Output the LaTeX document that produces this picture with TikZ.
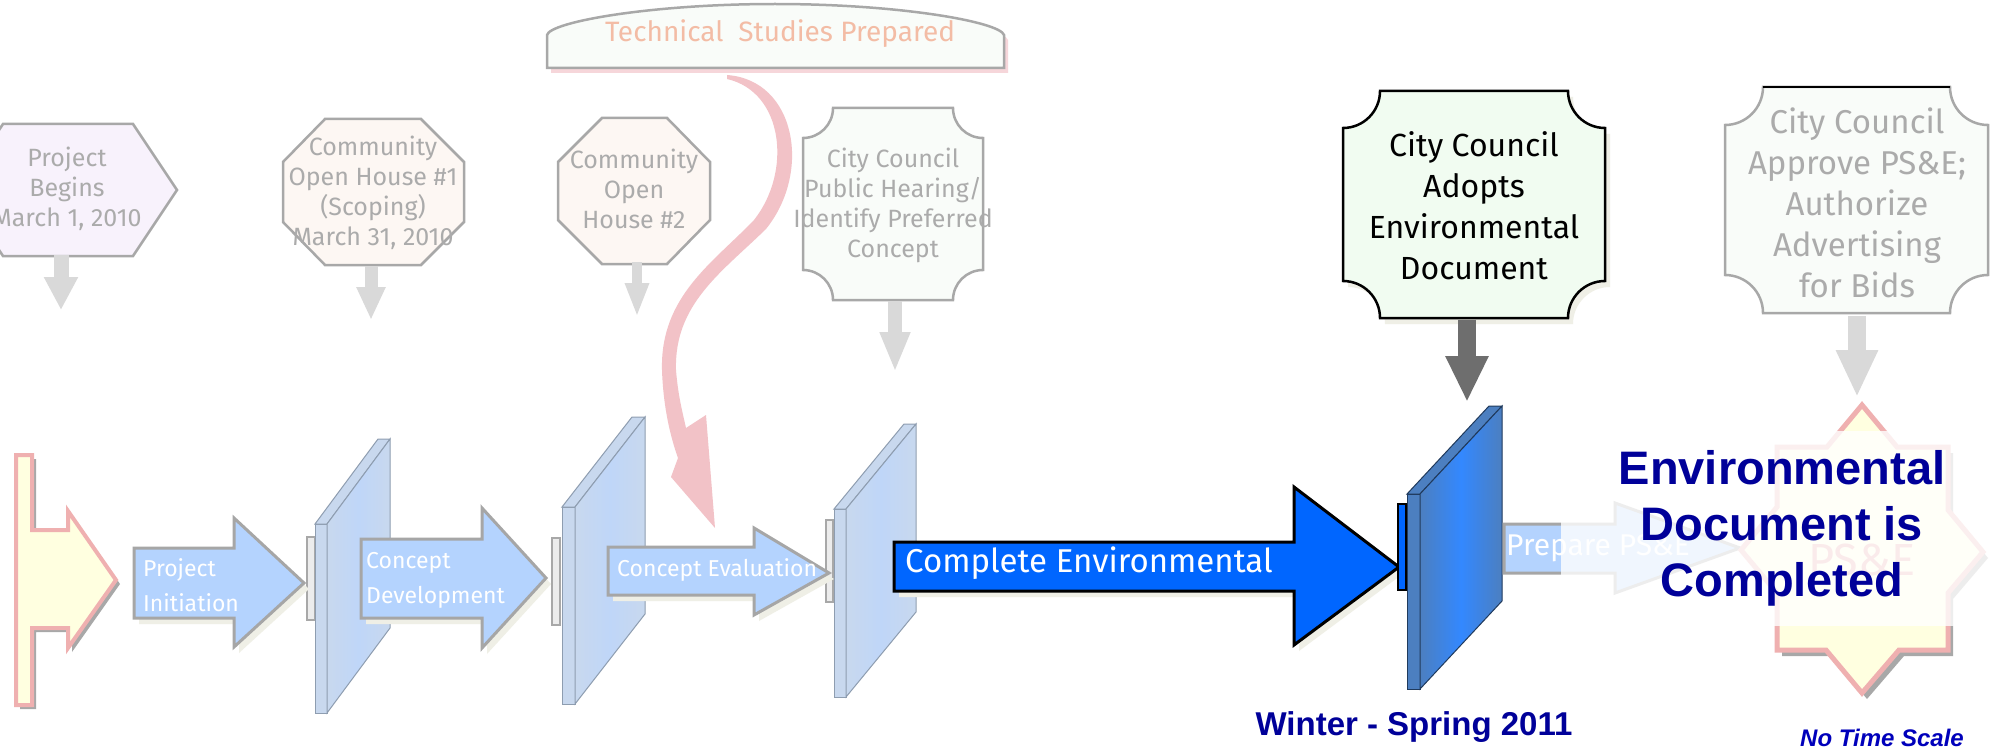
\documentclass[tikz,border=0pt]{standalone}
\usepackage{fontspec}
\setmainfont{Fira Sans}
\newfontfamily\arialfont{Liberation Sans}
\usetikzlibrary{arrows.meta}

\definecolor{boxgray}{HTML}{A8A8A8}
\definecolor{textgray}{HTML}{ABABAB}
\definecolor{arrgray}{HTML}{D9D9D9}
\definecolor{darkarr}{HTML}{6E6E6E}
\definecolor{lavender}{HTML}{F8F2FC}
\definecolor{peach}{HTML}{FDF7F3}
\definecolor{palegreen}{HTML}{F1FCF1}
\definecolor{palewhite}{HTML}{F9FCF9}
\definecolor{salmon}{HTML}{F3BCA5}
\definecolor{pinkshadow}{HTML}{F6D6DA}
\definecolor{shadowbeige}{HTML}{EFEFE6}
\definecolor{lightblue}{HTML}{B4D3FE}
\definecolor{arrborder}{HTML}{A6A6A6}
\definecolor{panelface}{HTML}{C8D8EE}
\definecolor{panelmid}{HTML}{BFD6F8}
\definecolor{paneledge}{HTML}{8E9DB0}
\definecolor{darkpanel}{HTML}{4C7FC0}
\definecolor{darkmid}{HTML}{3388FF}
\definecolor{darkedge}{HTML}{203A5C}
\definecolor{bigblue}{HTML}{0066FF}
\definecolor{navy}{HTML}{000099}
\definecolor{scaleblue}{HTML}{0000BB}
\definecolor{markpink}{HTML}{EFB0B0}
\definecolor{markyellow}{HTML}{FFFFE0}
\definecolor{psepink}{HTML}{EA9C9C}
\definecolor{swirlred}{HTML}{E8909A}

\begin{document}
\begin{tikzpicture}[x=1pt,y=-1pt,
  lightbox/.style={draw=boxgray,line width=2.5pt},
  boxtext/.style={text=textgray,font=\fontsize{25}{30}\selectfont,align=center,inner sep=0pt},
  plaquetext/.style={font=\fontsize{32}{41}\selectfont,align=center,inner sep=0pt},
  downarr/.style n args={3}{draw=arrgray,line width=#1,-{Triangle[width=#2,length=#3]}},
  shadowfill/.style={fill=shadowbeige,shift={(5,6)}},
  blockarr/.style={fill=lightblue,draw=arrborder,line width=3pt},
  arrtext/.style={text=white,font=\fontsize{23}{35}\selectfont,align=left,anchor=west,inner sep=0pt},
  panelside/.style={left color=panelface,right color=panelface,middle color=panelmid,draw=paneledge,line width=1pt},
  panelflat/.style={fill=panelface,draw=paneledge,line width=1pt},
  bracket/.style={fill=gray!15,draw=boxgray,line width=2pt}]

\fill[white] (0,0) rectangle (2003,749);
\useasboundingbox (0,0) rectangle (2003,749);

% studies box on top
\fill[pinkshadow,shift={(4,5)}] (547,68) -- (547,35) .. controls (550,22) and (650,4) .. (775,4) .. controls (900,4) and (1000,22) .. (1004,35) -- (1004,68) -- cycle;
\draw[lightbox,fill=palewhite] (547,68) -- (547,35) .. controls (550,22) and (650,4) .. (775,4) .. controls (900,4) and (1000,22) .. (1004,35) -- (1004,68) -- cycle;
\node[text=salmon,font=\fontsize{28}{32}\selectfont,inner sep=0pt] (studies) at (780,34) {Technical\ \ Studies Prepared};

% milestone boxes
\draw[lightbox,fill=lavender] (3,124) -- (133,124) -- (177,190) -- (133,256) -- (3,256) -- (-41,190) -- cycle;
\draw[lightbox,fill=peach] (325,119) -- (421,119) -- (464,162) -- (464,222) -- (421,265) -- (325,265) -- (283,222) -- (283,162) -- cycle;
\draw[lightbox,fill=peach] (602,118) -- (667,118) -- (710,162) -- (710,220) -- (667,264) -- (602,264) -- (558,220) -- (558,162) -- cycle;
\draw[lightbox,fill=palewhite] (833,108) -- (953,108) arc[start angle=180,end angle=270,radius=30pt] -- (983,270) arc[start angle=90,end angle=180,radius=30pt] -- (833,300) arc[start angle=0,end angle=90,radius=30pt] -- (803,138) arc[start angle=270,end angle=360,radius=30pt] -- cycle;
\fill[shadowfill] (1380,91) -- (1568,91) arc[start angle=180,end angle=270,radius=37pt] -- (1605,281) arc[start angle=90,end angle=180,radius=37pt] -- (1380,318) arc[start angle=0,end angle=90,radius=37pt] -- (1343,128) arc[start angle=270,end angle=360,radius=37pt] -- cycle;
\draw[line width=2.5pt,fill=palegreen] (1380,91) -- (1568,91) arc[start angle=180,end angle=270,radius=37pt] -- (1605,281) arc[start angle=90,end angle=180,radius=37pt] -- (1380,318) arc[start angle=0,end angle=90,radius=37pt] -- (1343,128) arc[start angle=270,end angle=360,radius=37pt] -- cycle;
\draw[lightbox,fill=palewhite] (1763,87) -- (1950,87) arc[start angle=180,end angle=270,radius=38pt] -- (1988,275) arc[start angle=90,end angle=180,radius=38pt] -- (1763,313) arc[start angle=0,end angle=90,radius=38pt] -- (1725,125) arc[start angle=270,end angle=360,radius=38pt] -- cycle;
\draw[line width=2.5pt] (1763,87) -- (1950,87);

\node[boxtext,minimum height=132pt] (begins) at (67,189) {Project\\Begins\\March 1, 2010};
\node[boxtext,minimum height=146pt] (house1) at (373,193) {Community\\Open House \#1\\(Scoping)\\March 31, 2010};
\node[boxtext,minimum height=146pt] (house2) at (634,189) {Community\\Open\\House \#2};
\node[boxtext,minimum height=192pt] (hearing) at (893,205) {City Council\\Public Hearing/\\Identify Preferred\\Concept};
\node[plaquetext,minimum height=227pt] (adopts) at (1474,206) {City Council\\Adopts\\Environmental\\Document};
\node[plaquetext,text=textgray,font=\fontsize{33}{41}\selectfont,minimum height=226pt] (approve) at (1857,203) {City Council\\Approve PS\&E;\\Authorize\\Advertising\\for Bids};

% down arrows
\coordinate (beginsend) at (61,310);
\coordinate (house1end) at (371,320);
\coordinate (house2end) at (637,317);
\coordinate (hearingend) at (895,372);
\coordinate (adoptsend) at (1467,402);
\coordinate (approveend) at (1857,397);
\draw[downarr={15pt}{32pt}{33pt}] (begins.south -| beginsend) -- (beginsend);
\draw[downarr={13pt}{27pt}{33pt}] (house1.south -| house1end) -- (house1end);
\draw[downarr={10pt}{22pt}{34pt}] (house2.south -| house2end) -- (house2end);
\draw[downarr={14pt}{28pt}{40pt}] (hearing.south -| hearingend) -- (hearingend);
\draw[downarr={18pt}{40pt}{46pt},draw=darkarr] (adopts.south -| adoptsend) -- (adoptsend);
\draw[downarr={18pt}{39pt}{47pt}] (approve.south) -- (approveend);

% start marker
\fill[boxgray,shift={(4,4)}] (16,455) -- (32,455) -- (32,530) -- (68,530) -- (68,511) -- (116,580) -- (68,648) -- (68,628) -- (32,628) -- (32,705) -- (16,705) -- cycle;
\draw[fill=markyellow,draw=markpink,line width=4pt] (16,455) -- (32,455) -- (32,530) -- (68,530) -- (68,511) -- (116,580) -- (68,648) -- (68,628) -- (32,628) -- (32,705) -- (16,705) -- cycle;

% light panels
\draw[bracket] (307,537) rectangle (315,620);
\draw[panelflat] (315,524) rectangle (327,713);
\draw[panelflat] (315,524) -- (378,439) -- (390,439) -- (327,524) -- cycle;
\path[panelside] (327,524) -- (390,439) -- (390,628) -- (327,713) -- cycle;
\draw[bracket] (552,538) rectangle (560,625);
\draw[panelflat] (562,507) rectangle (575,704);
\draw[panelflat] (562,507) -- (632,417) -- (645,417) -- (575,507) -- cycle;
\path[panelside] (575,507) -- (645,417) -- (645,614) -- (575,704) -- cycle;
\draw[bracket] (826,520) rectangle (833,602);
\draw[panelflat] (834,509) rectangle (846,697);
\draw[panelflat] (834,509) -- (904,424) -- (916,424) -- (846,509) -- cycle;
\path[panelside] (846,509) -- (916,424) -- (916,612) -- (846,697) -- cycle;

% light block arrows
\fill[shadowfill] (134,548) -- (234,548) -- (234,518) -- (304,583) -- (234,647) -- (234,618) -- (134,618) -- cycle;
\draw[blockarr] (134,548) -- (234,548) -- (234,518) -- (304,583) -- (234,647) -- (234,618) -- (134,618) -- cycle;
\fill[shadowfill] (361,539) -- (482,539) -- (482,508) -- (546,578) -- (482,648) -- (482,618) -- (361,618) -- cycle;
\draw[blockarr] (361,539) -- (482,539) -- (482,508) -- (546,578) -- (482,648) -- (482,618) -- (361,618) -- cycle;
\fill[shadowfill] (608,547) -- (754,547) -- (754,528) -- (829,573) -- (754,615) -- (754,595) -- (608,595) -- cycle;
\draw[blockarr] (608,547) -- (754,547) -- (754,528) -- (829,573) -- (754,615) -- (754,595) -- (608,595) -- cycle;
\node[arrtext] (initiation) at (143,585) {Project\\Initiation};
\node[arrtext] (development) at (366,580) {Concept\\Development};
\node[arrtext] (evaluation) at (617,570) {Concept Evaluation};

% studies swirl
\fill[swirlred,opacity=0.55] (727,75) .. controls (796,80) and (812,172) .. (766,229) .. controls (722,272) and (674,304) .. (676,370) .. controls (678,395) and (682,410) .. (686,428) -- (706,415) -- (715,528) -- (671,477) -- (678,458) .. controls (668,430) and (663,400) .. (662,370) .. controls (660,296) and (714,262) .. (754,220) .. controls (792,172) and (784,92) .. (727,79) -- cycle;

% environmental phase
\fill[shadowfill] (894,542) -- (1294,542) -- (1294,487) -- (1399,567) -- (1294,645) -- (1294,591) -- (894,591) -- cycle;
\draw[fill=bigblue,line width=3pt] (894,542) -- (1294,542) -- (1294,487) -- (1399,567) -- (1294,645) -- (1294,591) -- (894,591) -- cycle;
\node[arrtext,font=\fontsize{33}{36}\selectfont] (complete) at (905,563) {Complete Environmental};
\draw[fill=bigblue,line width=2pt] (1398,504) rectangle (1406,590);
\draw[fill=darkpanel,draw=darkedge,line width=1pt] (1407,494) rectangle (1420,689);
\draw[fill=darkpanel,draw=darkedge,line width=1pt] (1407,494) -- (1489,406) -- (1502,406) -- (1420,494) -- cycle;
\path[left color=darkpanel,right color=darkpanel,middle color=darkmid,draw=darkedge,line width=1pt] (1420,494) -- (1502,406) -- (1502,601) -- (1420,689) -- cycle;

% PS&E phase
\draw[blockarr] (1504,524) -- (1615,524) -- (1615,503) -- (1740,548) -- (1615,593) -- (1615,573) -- (1504,573) -- cycle;
\node[arrtext,font=\fontsize{30}{32}\selectfont] (prepare) at (1506,548) {Prepare PS\&E};
\fill[boxgray,shift={(5,6)}] (1862,405) -- (1897,447) -- (1948,447) -- (1948,510) -- (1983,552) -- (1948,593) -- (1948,650) -- (1899,650) -- (1862,693) -- (1826,650) -- (1777,650) -- (1777,593) -- (1741,550) -- (1777,507) -- (1777,447) -- (1827,447) -- cycle;
\draw[fill=markyellow,draw=markpink,line width=5pt] (1862,405) -- (1897,447) -- (1948,447) -- (1948,510) -- (1983,552) -- (1948,593) -- (1948,650) -- (1899,650) -- (1862,693) -- (1826,650) -- (1777,650) -- (1777,593) -- (1741,550) -- (1777,507) -- (1777,447) -- (1827,447) -- cycle;
\node[text=psepink,font=\fontsize{45}{48}\selectfont,inner sep=0pt] (pse) at (1862,560) {PS\&E};

\node[fill=white,fill opacity=0.8,text opacity=1,text=navy,font=\arialfont\bfseries\fontsize{47}{56}\selectfont,align=center,minimum width=442pt,minimum height=195pt,inner sep=0pt] (completed) at (1782,528) {Environmental\\Document is\\Completed};

\node[text=navy,font=\arialfont\bfseries\fontsize{33}{40}\selectfont,anchor=base,inner sep=0pt] (winter) at (1414,735) {Winter - Spring 2011};
\node[text=scaleblue,font=\arialfont\bfseries\itshape\fontsize{24}{28}\selectfont,anchor=base,inner sep=0pt] (notime) at (1882,746) {No Time Scale};
\end{tikzpicture}
\end{document}
